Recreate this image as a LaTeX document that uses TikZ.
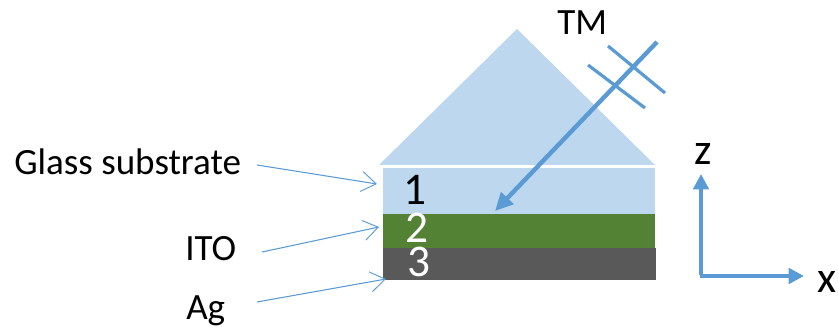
\documentclass[tikz,border=0pt]{standalone}
\usepackage{fontspec}
\setmainfont{Carlito}
\usetikzlibrary{arrows.meta}
\definecolor{glass}{HTML}{BDD7EE}
\definecolor{ito}{HTML}{548235}
\definecolor{silver}{HTML}{595959}
\definecolor{ray}{HTML}{5B9BD5}
\tikzset{
  lab/.style={font=\fontsize{27.8}{30}\selectfont,inner sep=0pt,text=black},
  axlab/.style={font=\fontsize{33}{36}\selectfont,inner sep=0pt,text=black},
  num/.style={font=\fontsize{34}{36}\selectfont,inner sep=0pt},
  thin arrow/.style={draw=ray,line width=0.8pt,-{Straight Barb[length=11pt,width=15pt,line width=0.7pt]}},
  ray line/.style={draw=ray,line width=3.3pt},
  axis arrow/.style={draw=ray,line width=3pt,-{Triangle[length=11.5pt,width=11.5pt]}},
}
\begin{document}
\begin{tikzpicture}[x=0.75pt,y=-0.75pt]
\useasboundingbox (0,0) rectangle (838,327);
% prism
\fill[glass] (517,29) -- (655,165) -- (379,165) -- cycle;
% layers
\fill[glass] (383,168) rectangle (655,214);
\fill[ito] (383,214) rectangle (655,248);
\fill[silver] (383,248) rectangle (656,280);
\node[num,text=black,anchor=base] (n1) at (415,205) {1};
\node[num,text=white,anchor=base] (n2) at (416.5,243) {2};
\node[num,text=white,anchor=base] (n3) at (418.5,277) {3};
% labels
\node[lab,anchor=base west] (glasslab) at (14,175) {Glass substrate};
\node[lab,anchor=base west] (itolab) at (185,260.5) {ITO};
\node[lab,anchor=base west] (aglab) at (186,319.5) {Ag};
\node[lab,anchor=base west] (tm) at (557,34.5) {TM};
\node[axlab,anchor=base] (zlab) at (703.5,165) {z};
\node[axlab,anchor=base] (xlab) at (827.5,293) {x};
% pointer ends
\coordinate (g0) at (257,165); \coordinate (g1) at (377,184);
\coordinate (i0) at (262,252); \coordinate (i1) at (379,227);
\coordinate (a0) at (257,302); \coordinate (a1) at (386,279);
\draw[thin arrow] (g0) -- (g1);
\draw[thin arrow] (i0) -- (i1);
\draw[thin arrow] (a0) -- (a1);
% incident ray
\coordinate (r0) at (657,42); \coordinate (r1) at (495,211);
\draw[ray line,-{Triangle[length=13.5pt,width=12.5pt]}] (r0) -- (r1);
\coordinate (c1a) at (608,46); \coordinate (c1b) at (665,93);
\coordinate (c2a) at (588,65); \coordinate (c2b) at (645,108);
\draw[draw=ray,line width=2.4pt] (c1a) -- (c1b);
\draw[draw=ray,line width=2.4pt] (c2a) -- (c2b);
% axes
\coordinate (o) at (701,276); \coordinate (zt) at (701,174); \coordinate (xt) at (804,276);
\draw[axis arrow] ([yshift=0.75pt]o) -- (zt);
\draw[axis arrow] ([xshift=-1pt]o) -- (xt);
\end{tikzpicture}
\end{document}
